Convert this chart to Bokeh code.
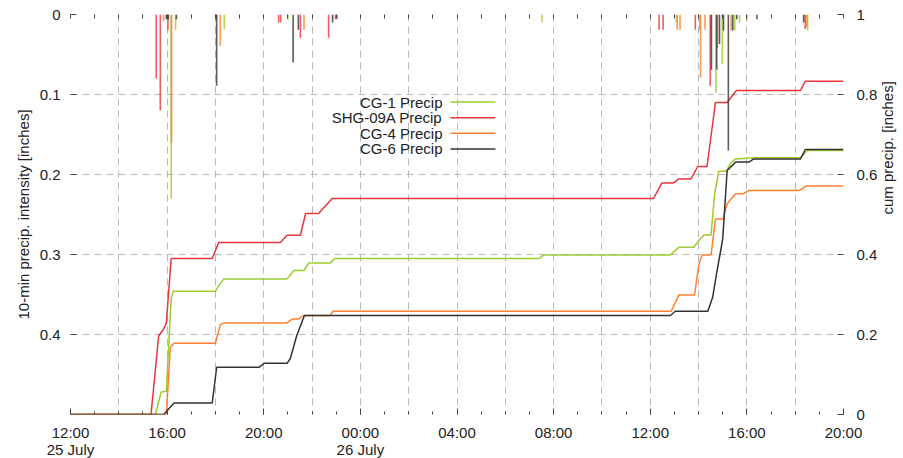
import math
from bokeh.plotting import figure
from bokeh.models import Range1d, LinearAxis, FixedTicker, Label, Arrow, CustomJSTickFormatter
from bokeh.embed import file_html
from bokeh.resources import INLINE

FONT = "Liberation Sans"
FS = "15px"

# ---- data (times as "DD HH:MM", July) ----
series_names = ["CG-1 Precip", "SHG-09A Precip", "CG-4 Precip", "CG-6 Precip"]
series_colors = ["#9ccc2e", "#e8353b", "#ff8030", "#333333"]

# cumulative precipitation [inches]
cg1_cum_t = ["25 12:00", "25 15:31", "25 15:45", "25 15:58", "25 16:10", "25 16:15", "25 18:00", "25 18:08",
             "25 18:21", "25 20:58", "25 21:15", "25 21:40", "25 21:52", "25 22:45", "25 22:57", "26 07:25",
             "26 07:35", "26 12:50", "26 13:11", "26 13:48", "26 14:05", "26 14:13", "26 14:31", "26 14:40",
             "26 14:50", "26 15:09", "26 15:19", "26 15:32", "26 16:17", "26 18:13", "26 18:30", "26 20:00"]
cg1_cum_v = [0, 0, 0.056, 0.058, 0.289, 0.308, 0.308, 0.3225,
             0.339, 0.339, 0.36, 0.36, 0.379, 0.379, 0.39, 0.39,
             0.399, 0.399, 0.418, 0.418, 0.44, 0.449, 0.449, 0.552,
             0.608, 0.608, 0.628, 0.639, 0.642, 0.642, 0.66, 0.66]

shg_cum_t = ["25 12:00", "25 15:20", "25 15:39", "25 15:49", "25 15:58", "25 16:10", "25 17:52", "25 18:08",
             "25 20:41", "25 20:58", "25 21:31", "25 21:44", "25 22:16", "25 22:50", "26 12:08", "26 12:29",
             "26 12:58", "26 13:11", "26 13:41", "26 13:58", "26 14:21", "26 14:42", "26 15:11", "26 15:34",
             "26 18:13", "26 18:25", "26 20:00"]
shg_cum_v = [0, 0, 0.197, 0.21, 0.228, 0.39, 0.39, 0.43,
             0.43, 0.448, 0.448, 0.5025, 0.5025, 0.54, 0.54, 0.579,
             0.579, 0.589, 0.589, 0.62, 0.62, 0.78, 0.78, 0.81,
             0.81, 0.833, 0.833]

cg4_cum_t = ["25 12:00", "25 15:58", "25 16:08", "25 16:17", "25 18:00", "25 18:12", "25 18:21", "25 20:58",
             "25 21:11", "25 21:27", "25 21:39", "25 22:45", "25 22:52", "26 12:52", "26 13:11", "26 13:50",
             "26 14:01", "26 14:09", "26 14:31", "26 14:42", "26 15:01", "26 15:11", "26 15:32", "26 15:52",
             "26 16:05", "26 18:10", "26 18:27", "26 20:00"]
cg4_cum_v = [0, 0, 0.168, 0.178, 0.178, 0.224, 0.229, 0.229,
             0.239, 0.239, 0.2475, 0.2475, 0.258, 0.258, 0.299, 0.299,
             0.377, 0.399, 0.399, 0.489, 0.489, 0.527, 0.552, 0.552,
             0.56, 0.56, 0.571, 0.571]

cg6_cum_t = ["25 12:00", "25 15:52", "25 16:17", "25 17:52", "25 18:03", "25 19:48", "25 20:01", "25 20:58",
             "25 21:06", "25 21:22", "25 21:41", "26 12:50", "26 13:02", "26 14:23", "26 14:35", "26 14:46",
             "26 14:55", "26 15:00", "26 15:11", "26 15:32", "26 16:05", "26 16:17", "26 18:13", "26 18:25",
             "26 20:00"]
cg6_cum_v = [0, 0, 0.029, 0.029, 0.118, 0.118, 0.128, 0.128,
             0.14, 0.1975, 0.2475, 0.2475, 0.258, 0.258, 0.293, 0.36,
             0.41, 0.439, 0.61, 0.631, 0.631, 0.639, 0.639, 0.6625,
             0.6625]

# 10-min precipitation intensity [inches]
cg1_bar_t = ["25 16:10", "25 16:21", "25 18:22", "25 21:00", "26 07:31", "26 13:05", "26 14:03", "26 14:43",
             "26 14:59", "26 15:30", "26 15:42", "26 18:31"]
cg1_bar_v = [0.23, 0.019, 0.018, 0.006, 0.0096, 0.01, 0.02, 0.098,
             0.062, 0.02, 0.01, 0.02]

shg_bar_t = ["25 15:33", "25 15:43", "25 16:02", "25 18:02", "25 20:37", "25 20:42", "25 21:31", "25 22:41",
             "25 22:58", "26 12:22", "26 12:32", "26 13:52", "26 14:29", "26 18:25"]
shg_bar_v = [0.08, 0.12, 0.019, 0.006, 0.01, 0.01, 0.029, 0.029,
             0.006, 0.019, 0.019, 0.019, 0.089, 0.018]

cg4_bar_t = ["25 15:51", "25 16:11", "25 18:12", "25 21:40", "25 23:03", "26 13:07", "26 13:14", "26 14:05",
             "26 14:16", "26 14:47", "26 15:21", "26 16:00", "26 18:29"]
cg4_bar_v = [0.008, 0.16, 0.039, 0.019, 0.006, 0.019, 0.019, 0.079,
             0.019, 0.042, 0.02, 0.0075, 0.016]

cg6_bar_t = ["25 15:58", "25 16:03", "25 16:23", "25 18:03", "25 21:13", "25 21:26", "25 22:51", "26 14:32",
             "26 14:45", "26 14:52", "26 15:02", "26 15:14", "26 15:25", "26 15:35", "26 16:25", "26 18:21"]
cg6_bar_v = [0.006, 0.006, 0.006, 0.089, 0.06, 0.019, 0.01, 0.069,
             0.069, 0.037, 0.02, 0.17, 0.02, 0.006, 0.006, 0.01]

x_tick_hours = [0, 4, 8, 12, 16, 20, 24, 28, 32]
x_tick_labels = ["12:00\n25 July", "16:00", "20:00", "00:00\n26 July", "04:00", "08:00", "12:00", "16:00", "20:00"]
left_ticks = [0, 0.1, 0.2, 0.3, 0.4]
right_ticks = [0, 0.2, 0.4, 0.6, 0.8, 1.0]


def hrs(s):
    d, hm = s.split()
    h, m = hm.split(":")
    return (int(d) - 25) * 24 + int(h) + int(m) / 60 - 12


p = figure(frame_width=773, frame_height=400, x_range=Range1d(0, 32), y_range=Range1d(0.5, 0),
           output_backend="svg", toolbar_location=None, min_border_left=70, min_border_top=14,
           min_border_right=10, min_border_bottom=10)
p.outline_line_color = None
p.background_fill_color = "white"
p.extra_y_ranges = {"cum": Range1d(0, 1)}

# grids
p.xgrid.ticker = FixedTicker(ticks=list(range(0, 33, 2)))
p.ygrid.ticker = FixedTicker(ticks=left_ticks)
for g in (p.xgrid, p.ygrid):
    g.grid_line_color = "#b8b8b8"
    g.grid_line_dash = "7 5"
    g.grid_line_width = 1


def style_axis(ax):
    ax.axis_line_color = None
    ax.major_tick_in = 6
    ax.major_tick_out = 0
    ax.minor_tick_in = 3
    ax.minor_tick_out = 0
    ax.major_tick_line_color = "#444444"
    ax.minor_tick_line_color = "#444444"
    ax.major_label_text_font = FONT
    ax.major_label_text_font_size = FS
    ax.major_label_text_color = "#222222"
    ax.major_label_text_line_height = 1.0
    ax.axis_label_text_font = FONT
    ax.axis_label_text_font_size = FS
    ax.axis_label_text_font_style = "normal"
    ax.axis_label_text_color = "#222222"


xa = p.xaxis[0]
style_axis(xa)
xa.ticker = FixedTicker(ticks=x_tick_hours, minor_ticks=list(range(0, 33)))
xa.major_label_overrides = {h: lab for h, lab in zip(x_tick_hours, x_tick_labels)}
xa.major_label_standoff = 9

ya = p.yaxis[0]
style_axis(ya)
ya.ticker = FixedTicker(ticks=left_ticks, minor_ticks=[])
ya.formatter = CustomJSTickFormatter(code="return Math.abs(tick) < 1e-9 ? '0' : tick.toFixed(1);")
ya.axis_label = "10-min precip. intensity [inches]"
ya.major_label_standoff = 10
ya.axis_label_standoff = 5

ra = LinearAxis(y_range_name="cum")
style_axis(ra)
ra.ticker = FixedTicker(ticks=right_ticks, minor_ticks=[])
ra.formatter = CustomJSTickFormatter(
    code="if (Math.abs(tick) < 1e-9) return '0'; if (Math.abs(tick - 1) < 1e-9) return '1'; return tick.toFixed(1);")
ra.axis_label = "cum precip. [inches]"
ra.axis_label_orientation = math.pi / 2
ra.major_label_standoff = 13
ra.axis_label_standoff = 7
p.add_layout(ra, "right")

ta = LinearAxis(ticker=FixedTicker(ticks=[], minor_ticks=list(range(0, 33))))
style_axis(ta)
ta.minor_tick_in = 4
p.add_layout(ta, "above")

cums = [(cg1_cum_t, cg1_cum_v), (shg_cum_t, shg_cum_v), (cg4_cum_t, cg4_cum_v), (cg6_cum_t, cg6_cum_v)]
bars = [(cg1_bar_t, cg1_bar_v), (shg_bar_t, shg_bar_v), (cg4_bar_t, cg4_bar_v), (cg6_bar_t, cg6_bar_v)]

for (t, v), c in zip(cums, series_colors):
    p.line([hrs(s) for s in t], v, y_range_name="cum", line_color=c, line_width=1.5)

for (t, v), c in zip(bars, series_colors):
    x = [hrs(s) for s in t]
    p.segment(x0=x, y0=[0] * len(x), x1=x, y1=v, line_color=c, line_width=1.6, line_alpha=0.8)

# legend (text then line sample, as in the original)
leg_x_text = 15.40
leg_x0, leg_x1 = 15.73, 17.59
leg_y = [0.781, 0.742, 0.703, 0.664]
for name, c, yy in zip(series_names, series_colors, leg_y):
    p.add_layout(Label(x=leg_x_text, y=yy, y_range_name="cum", text=name, text_align="right",
                       text_baseline="middle", text_font=FONT, text_font_size=FS, text_color="#222222"))
    p.add_layout(Arrow(end=None, start=None, x_start=leg_x0, y_start=yy, x_end=leg_x1, y_end=yy,
                       y_range_name="cum", line_color=c, line_width=1.5))

open("out.html", "w").write(file_html(p, INLINE))
